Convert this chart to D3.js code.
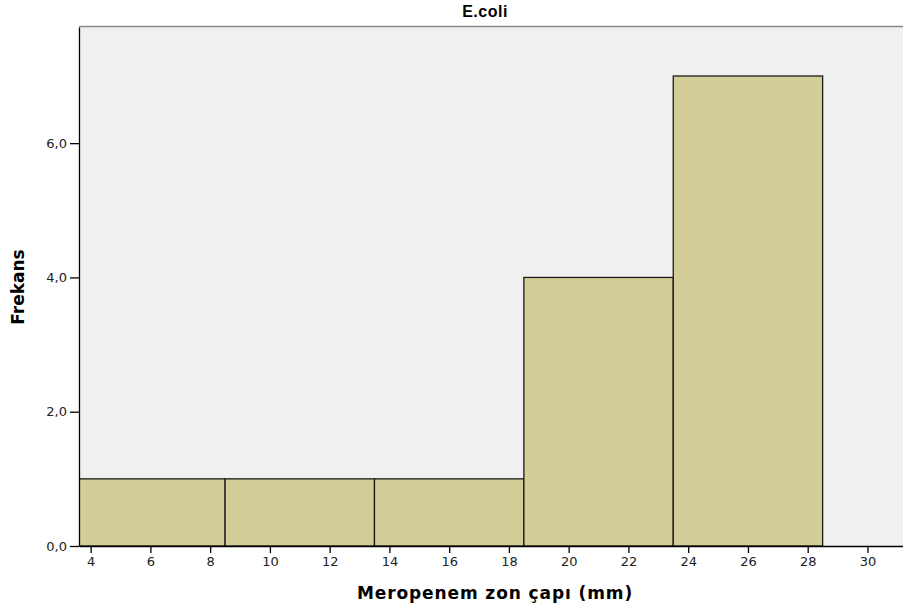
<!DOCTYPE html>
<html>
<head>
<meta charset="utf-8">
<script src="https://cdn.jsdelivr.net/npm/d3@7"></script>
<style>
  body { margin: 0; background: white; }
  text { font-family: "DejaVu Sans", Verdana, sans-serif; }
</style>
</head>
<body>
<div id="chart"></div>
<script>
var w = 903;
var h = 609;

// histogram bins (lower edge, upper edge) and counts
var binStart = [3.5, 8.5, 13.5, 18.5, 23.5];
var binEnd = [8.5, 13.5, 18.5, 23.5, 28.5];
var counts = [1, 1, 1, 4, 7];
var xTicks = [4, 6, 8, 10, 12, 14, 16, 18, 20, 22, 24, 26, 28, 30];
var yTicks = [0, 2, 4, 6];

var pLeft = 79, pRight = 903, pTop = 27, pBottom = 546;

var svg = d3.select("#chart")
    .append("svg")
    .attr("width", w)
    .attr("height", h);

var x = d3.scaleLinear().domain([3.61, 31.19]).range([pLeft, pRight]);
var y = d3.scaleLinear().domain([0, 7.73]).range([pBottom, pTop]);

// plot background
svg.append("rect")
    .attr("x", pLeft)
    .attr("y", pTop)
    .attr("width", pRight - pLeft)
    .attr("height", pBottom - pTop)
    .attr("fill", "#f0f0f0");

svg.append("line")
    .attr("x1", pLeft).attr("x2", pRight)
    .attr("y1", pTop - 0.5).attr("y2", pTop - 0.5)
    .attr("stroke", "#8a8a8a")
    .attr("stroke-width", 1.5);

svg.append("clipPath").attr("id", "clip")
    .append("rect")
    .attr("x", pLeft).attr("y", pTop)
    .attr("width", pRight - pLeft).attr("height", pBottom - pTop);

var bars = binStart.map(function(s, i) {
    return { s: s, e: binEnd[i], c: counts[i] };
});

svg.append("g")
    .attr("clip-path", "url(#clip)")
    .selectAll("rect.bar")
    .data(bars)
    .join("rect")
    .attr("class", "bar")
    .attr("x", function(d) { return x(d.s); })
    .attr("y", function(d) { return y(d.c); })
    .attr("width", function(d) { return x(d.e) - x(d.s); })
    .attr("height", function(d) { return y(0) - y(d.c); })
    .attr("fill", "#d3ce98")
    .attr("stroke", "#1a1a1a")
    .attr("stroke-width", 1.3);

// x axis
var xAxis = svg.append("g")
    .attr("transform", "translate(0," + pBottom + ")")
    .call(d3.axisBottom(x).tickValues(xTicks).tickSize(7).tickPadding(4).tickSizeOuter(0));
xAxis.select(".domain").attr("stroke", "#000").attr("stroke-width", 1.3);
xAxis.selectAll(".tick line").attr("stroke", "#000").attr("stroke-width", 1.3);
xAxis.selectAll(".tick text")
    .style("font-size", "13px")
    .attr("fill", "#222");

// y axis
var yAxis = svg.append("g")
    .attr("transform", "translate(" + pLeft + ",0)")
    .call(d3.axisLeft(y).tickValues(yTicks).tickSize(9).tickPadding(3).tickSizeOuter(0)
        .tickFormat(function(d) { return d3.format(".1f")(d).replace(".", ","); }));
yAxis.select(".domain").attr("stroke", "#000").attr("stroke-width", 1.3);
yAxis.selectAll(".tick line").attr("stroke", "#000").attr("stroke-width", 1.3);
yAxis.selectAll(".tick text")
    .style("font-size", "13px")
    .attr("fill", "#222");

// title and axis labels
svg.append("text")
    .attr("x", 485)
    .attr("y", 17)
    .attr("text-anchor", "middle")
    .style("font-family", "'Liberation Sans', Arial, sans-serif")
    .style("font-size", "16px")
    .style("font-weight", "bold")
    .style("letter-spacing", "0.5px")
    .text("E.coli");

svg.append("text")
    .attr("x", 495)
    .attr("y", 599)
    .attr("text-anchor", "middle")
    .style("font-size", "17px")
    .style("font-weight", "bold")
    .style("letter-spacing", "0.9px")
    .text("Meropenem zon çapı (mm)");

svg.append("text")
    .attr("transform", "translate(24,287) rotate(-90)")
    .attr("text-anchor", "middle")
    .style("font-size", "17px")
    .style("font-weight", "bold")
    .text("Frekans");
</script>
</body>
</html>
